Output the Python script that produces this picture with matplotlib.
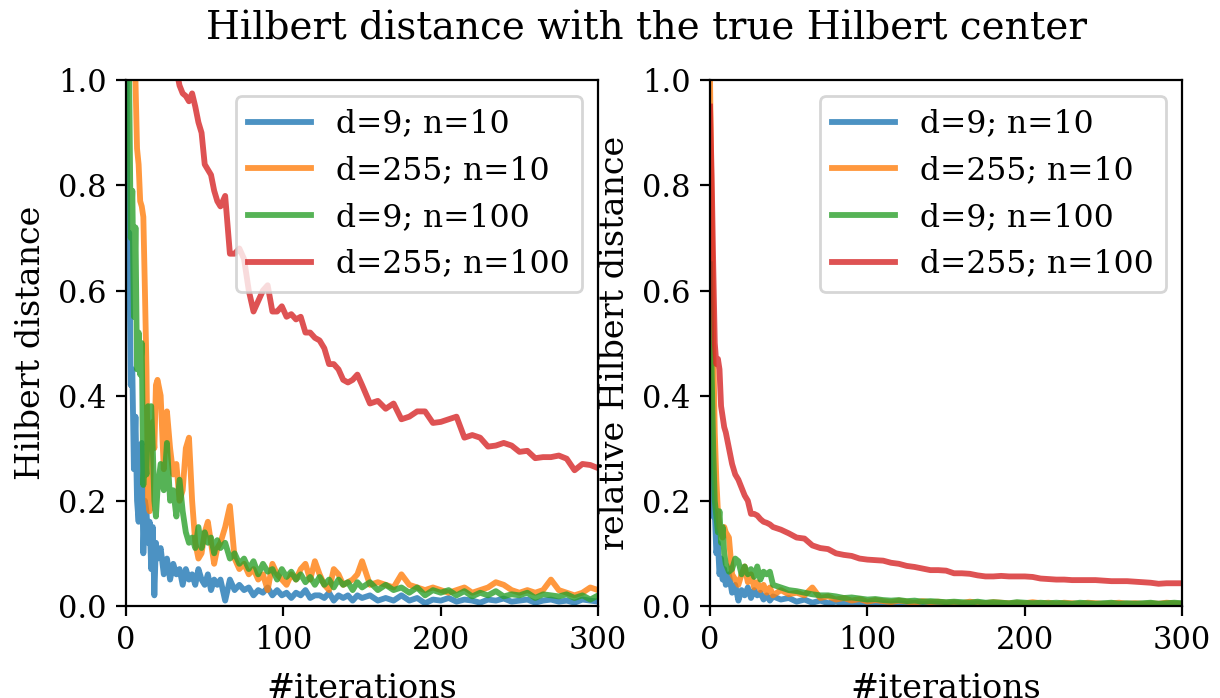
import matplotlib
matplotlib.use("Agg")
import matplotlib.pyplot as plt

plt.rcParams['font.family'] = ['DejaVu Serif']
plt.rcParams['font.size'] = 11

labels = ["d=9; n=10", "d=255; n=10", "d=9; n=100", "d=255; n=100"]

# iterations sampled for the left panel
iters_left = (list(range(0, 21)) + list(range(22, 61, 2))
              + list(range(63, 151, 3)) + list(range(155, 301, 5)))

hd_d9_n10 = [1.3, 0.57, 0.71, 0.42, 0.45, 0.26, 0.36, 0.2, 0.16, 0.3, 0.31,
             0.1, 0.2, 0.18, 0.12, 0.16, 0.07, 0.15, 0.02, 0.12, 0.09,
             0.11, 0.06, 0.09, 0.05, 0.08, 0.06, 0.07, 0.04, 0.07, 0.05,
             0.06, 0.04, 0.07, 0.05, 0.04, 0.06, 0.03, 0.05, 0.04, 0.05,
             0.01, 0.05, 0.03, 0.04, 0.03, 0.035, 0.02, 0.03, 0.025, 0.035,
             0.02, 0.03, 0.02, 0.025, 0.015, 0.025, 0.02, 0.03, 0.015, 0.02,
             0.02, 0.015, 0.025, 0.01, 0.02, 0.015, 0.02, 0.01, 0.02, 0.015,
             0.02, 0.01, 0.015, 0.01, 0.02, 0.01, 0.015, 0.005, 0.012, 0.01,
             0.015, 0.008, 0.012, 0.01, 0.006, 0.012, 0.01, 0.014, 0.008, 0.01,
             0.012, 0.006, 0.01, 0.012, 0.008, 0.01, 0.006, 0.012, 0.01, 0.008]

hd_d255_n10 = [1.5, 1.4, 1.3, 1.2, 1.1, 1.05, 1.0, 0.87, 0.84, 0.77, 0.76,
               0.74, 0.6, 0.45, 0.2, 0.18, 0.3, 0.35, 0.3, 0.42, 0.43,
               0.4, 0.26, 0.37, 0.3, 0.25, 0.27, 0.2, 0.22, 0.3, 0.32,
               0.2, 0.12, 0.09, 0.1, 0.14, 0.16, 0.12, 0.08, 0.11, 0.12,
               0.15, 0.19, 0.09, 0.07, 0.08, 0.06, 0.07, 0.05, 0.06, 0.03,
               0.08, 0.06, 0.05, 0.04, 0.06, 0.05, 0.07, 0.08, 0.05, 0.085,
               0.06, 0.04, 0.03, 0.07, 0.06, 0.04, 0.045, 0.05, 0.06, 0.085,
               0.04, 0.045, 0.04, 0.035, 0.06, 0.04, 0.035, 0.03, 0.035, 0.03,
               0.025, 0.03, 0.035, 0.025, 0.03, 0.035, 0.045, 0.04, 0.03, 0.025,
               0.03, 0.025, 0.03, 0.05, 0.03, 0.025, 0.02, 0.025, 0.035, 0.03]

hd_d9_n100 = [1.3, 1.1, 1.0, 0.7, 0.79, 0.55, 0.72, 0.45, 0.52, 0.44, 0.5,
              0.23, 0.3, 0.25, 0.38, 0.37, 0.38, 0.3, 0.2, 0.17, 0.22,
              0.27, 0.22, 0.31, 0.2, 0.22, 0.17, 0.24, 0.18, 0.14, 0.12,
              0.13, 0.11, 0.15, 0.11, 0.14, 0.12, 0.13, 0.1, 0.125, 0.11,
              0.12, 0.09, 0.1, 0.08, 0.09, 0.07, 0.085, 0.06, 0.08, 0.065,
              0.07, 0.05, 0.07, 0.055, 0.065, 0.05, 0.06, 0.045, 0.055, 0.04,
              0.055, 0.04, 0.05, 0.035, 0.05, 0.04, 0.045, 0.03, 0.045, 0.035,
              0.045, 0.03, 0.04, 0.03, 0.035, 0.025, 0.035, 0.02, 0.03, 0.025,
              0.03, 0.02, 0.028, 0.018, 0.025, 0.02, 0.028, 0.018, 0.022, 0.02,
              0.025, 0.015, 0.022, 0.02, 0.018, 0.022, 0.015, 0.02, 0.012, 0.02]

hd_d255_n100 = [2.5, 2.4, 2.3, 2.2, 2.1, 2.0, 1.95, 1.9, 1.85, 1.8, 1.75,
                1.7, 1.65, 1.6, 1.55, 1.5, 1.45, 1.42, 1.38, 1.34, 1.3,
                1.25, 1.2, 1.15, 1.1, 1.06, 1.02, 0.99, 0.975, 0.97, 0.96,
                0.975, 0.95, 0.92, 0.9, 0.84, 0.83, 0.82, 0.79, 0.77, 0.76,
                0.78, 0.67, 0.67, 0.68, 0.66, 0.6, 0.56, 0.58, 0.6, 0.61,
                0.56, 0.56, 0.57, 0.55, 0.555, 0.545, 0.55, 0.52, 0.52, 0.51,
                0.505, 0.49, 0.46, 0.46, 0.45, 0.43, 0.425, 0.43, 0.44, 0.42,
                0.385, 0.39, 0.375, 0.385, 0.355, 0.36, 0.37, 0.37, 0.348, 0.35,
                0.355, 0.36, 0.32, 0.325, 0.32, 0.303, 0.305, 0.31, 0.305, 0.293,
                0.295, 0.281, 0.283, 0.283, 0.286, 0.28, 0.258, 0.27, 0.268, 0.262]

# iterations sampled for the right panel
iters_right = list(range(0, 11)) + list(range(12, 41, 2)) + list(range(45, 301, 5))

rel_d9_n10 = [0.5, 0.3, 0.17, 0.18, 0.1, 0.12, 0.06, 0.09, 0.05, 0.07, 0.04,
              0.06, 0.025, 0.04, 0.01, 0.03, 0.02, 0.035, 0.015, 0.03, 0.02,
              0.025, 0.012, 0.02, 0.01, 0.018,
              0.012, 0.015, 0.008, 0.012, 0.006, 0.01, 0.005, 0.008, 0.004, 0.007,
              0.005, 0.006, 0.004, 0.005, 0.003, 0.005, 0.004, 0.006, 0.003, 0.005,
              0.004, 0.003, 0.005, 0.004, 0.003, 0.004, 0.005, 0.003, 0.004, 0.003,
              0.004, 0.003, 0.005, 0.003, 0.004, 0.003, 0.004, 0.003, 0.004, 0.003,
              0.003, 0.004, 0.003, 0.004, 0.003, 0.004, 0.003, 0.003, 0.004, 0.003,
              0.003, 0.004]

rel_d255_n10 = [1.0, 0.75, 0.5, 0.33, 0.24, 0.18, 0.15, 0.14, 0.13, 0.15, 0.14,
                0.13, 0.06, 0.05, 0.04, 0.06, 0.075, 0.045, 0.06, 0.035, 0.045,
                0.03, 0.04, 0.025, 0.035, 0.02,
                0.03, 0.022, 0.025, 0.02, 0.035, 0.015, 0.018, 0.012, 0.015, 0.01,
                0.013, 0.008, 0.011, 0.009, 0.007, 0.01, 0.008, 0.006, 0.009, 0.007,
                0.008, 0.006, 0.007, 0.005, 0.008, 0.006, 0.005, 0.007, 0.006, 0.005,
                0.006, 0.005, 0.007, 0.005, 0.006, 0.004, 0.006, 0.005, 0.004, 0.006,
                0.005, 0.004, 0.005, 0.006, 0.004, 0.005, 0.004, 0.005, 0.004, 0.006,
                0.005, 0.004]

rel_d9_n100 = [0.65, 0.45, 0.3, 0.2, 0.17, 0.14, 0.18, 0.12, 0.15, 0.1, 0.08,
               0.065, 0.07, 0.09, 0.085, 0.06, 0.075, 0.06, 0.07, 0.055, 0.075,
               0.05, 0.065, 0.06, 0.065, 0.04,
               0.035, 0.03, 0.028, 0.025, 0.022, 0.02, 0.02, 0.018, 0.015, 0.016,
               0.014, 0.012, 0.013, 0.011, 0.01, 0.011, 0.009, 0.01, 0.008, 0.009,
               0.008, 0.007, 0.008, 0.007, 0.006, 0.008, 0.006, 0.007, 0.006, 0.005,
               0.007, 0.006, 0.005, 0.006, 0.005, 0.006, 0.005, 0.004, 0.006, 0.005,
               0.004, 0.005, 0.006, 0.004, 0.005, 0.004, 0.005, 0.006, 0.004, 0.005,
               0.006, 0.005]

rel_d255_n100 = [0.95, 0.82, 0.65, 0.5, 0.46, 0.47, 0.45, 0.38, 0.36, 0.34, 0.33,
                 0.3, 0.27, 0.25, 0.24, 0.225, 0.21, 0.2, 0.175, 0.175, 0.172,
                 0.165, 0.16, 0.158, 0.155, 0.15,
                 0.145, 0.138, 0.13, 0.128, 0.115, 0.11, 0.108, 0.1, 0.097, 0.095,
                 0.09, 0.088, 0.087, 0.086, 0.082, 0.08, 0.076, 0.074, 0.071, 0.068,
                 0.068, 0.067, 0.062, 0.062, 0.061, 0.058, 0.056, 0.056, 0.057, 0.056,
                 0.056, 0.056, 0.055, 0.052, 0.051, 0.05, 0.05, 0.049, 0.049, 0.049,
                 0.049, 0.048, 0.047, 0.047, 0.047, 0.046, 0.045, 0.044, 0.042, 0.043,
                 0.043, 0.043]

left_series = [hd_d9_n10, hd_d255_n10, hd_d9_n100, hd_d255_n100]
right_series = [rel_d9_n10, rel_d255_n10, rel_d9_n100, rel_d255_n100]

figure, axes = plt.subplots(1, 2, figsize=(6.1, 3.49), dpi=200)
plt.subplots_adjust(left=0.1033, right=0.969, bottom=0.132, top=0.885, wspace=0.237)

for axis, xs, series, ylabel in [(axes[0], iters_left, left_series, "Hilbert distance"),
                                  (axes[1], iters_right, right_series, "relative Hilbert distance")]:
    for values, label in zip(series, labels):
        axis.plot(xs, values, linewidth=2.1, alpha=0.8, label=label)
    axis.set_xlim(0, 300)
    axis.set_ylim(0, 1.0)
    axis.set_xlabel("#iterations", fontsize=12, labelpad=6)
    axis.set_ylabel(ylabel, fontsize=12)
    axis.legend(loc="upper right", fontsize=11.3)

figure.suptitle("Hilbert distance with the true Hilbert center", x=0.53, y=0.985, fontsize=14)
figure.savefig("out.png", dpi=200)
